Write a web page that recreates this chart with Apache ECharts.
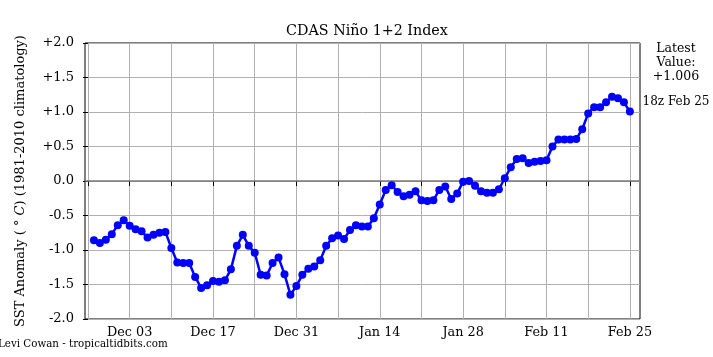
<!DOCTYPE html>
<html><head><meta charset="utf-8">
<script src="https://cdn.jsdelivr.net/npm/echarts@6/dist/echarts.min.js"></script>
<style>html,body{margin:0;padding:0;background:#fff}#c{width:713px;height:357px}</style>
</head><body><div id="c"></div>
<script>
const chartTitle = 'CDAS Niño 1+2 Index';
const refDate = '2023-11-26';       // day 0 of the x axis
const firstDataDate = '2023-11-27'; // first daily value
const anomaly = [
  -0.86,-0.90,-0.85,-0.77,-0.64,-0.57,-0.65,-0.70,-0.73,-0.82,
  -0.78,-0.75,-0.74,-0.97,-1.18,-1.19,-1.19,-1.39,-1.55,-1.51,
  -1.45,-1.46,-1.44,-1.28,-0.94,-0.78,-0.94,-1.04,-1.36,-1.37,
  -1.19,-1.11,-1.35,-1.65,-1.52,-1.36,-1.27,-1.24,-1.15,-0.94,
  -0.83,-0.79,-0.84,-0.71,-0.64,-0.66,-0.66,-0.54,-0.34,-0.13,
  -0.06,-0.16,-0.22,-0.20,-0.15,-0.28,-0.29,-0.28,-0.13,-0.08,
  -0.26,-0.18,-0.01,0.00,-0.07,-0.15,-0.17,-0.17,-0.12,0.04,
  0.20,0.32,0.33,0.26,0.28,0.29,0.30,0.50,0.60,0.60,
  0.60,0.61,0.75,0.98,1.07,1.07,1.14,1.22,1.20,1.14,
  1.006
];
const tickDates = ['2023-11-26','2023-12-03','2023-12-10','2023-12-17','2023-12-24','2023-12-31',
  '2024-01-07','2024-01-14','2024-01-21','2024-01-28','2024-02-04','2024-02-11','2024-02-18','2024-02-25'];
const labelDates = ['2023-12-03','2023-12-17','2023-12-31','2024-01-14','2024-01-28','2024-02-11','2024-02-25'];
const labelTexts = ['Dec 03','Dec 17','Dec 31','Jan 14','Jan 28','Feb 11','Feb 25'];
const latestText = 'Latest\nValue:\n+1.006';
const latestTime = '18z Feb 25';
const credit = 'Levi Cowan - tropicaltidbits.com';

const DAY = 86400000;
const dayOf = s => Math.round((Date.parse(s) - Date.parse(refDate)) / DAY);
const first = dayOf(firstDataDate);
const seriesData = anomaly.map((v, i) => [first + i, v]);
const tickDays = tickDates.map(dayOf);
const labelDays = labelDates.map(dayOf);
const labelMap = {};
labelDays.forEach((d, i) => labelMap[d] = labelTexts[i]);

const FONT = 'DejaVu Serif';
const chart = echarts.init(document.getElementById('c'));
chart.setOption({
  animation: false,
  backgroundColor: '#fff',
  title: {
    text: chartTitle, left: 362, top: 19, textAlign: 'center',
    textStyle: {fontFamily: FONT, fontSize: 14.3, fontWeight: 'normal', color: '#000'}
  },
  grid: {left: 85, right: 73, top: 43, bottom: 38, show: true, borderColor: '#000', borderWidth: 1, containLabel: false},
  xAxis: {
    type: 'value', min: -0.5, max: 92.7,
    axisLine: {show: false},
    axisTick: {show: true, length: 5, customValues: tickDays, lineStyle: {color: '#000', width: 1}},
    axisLabel: {customValues: labelDays, formatter: v => labelMap[Math.round(v)] || '', fontFamily: FONT, fontSize: 12.8, color: '#000', margin: 7},
    splitLine: {show: true, lineStyle: {color: '#b0b0b0', width: 1}}
  },
  yAxis: {
    type: 'value', min: -2, max: 2, interval: 0.5,
    name: '{a|SST Anomaly ( ° }{i|C}{a|) (1981-2010 climatology)}', nameLocation: 'middle', nameGap: 58,
    nameTextStyle: {fontFamily: FONT, fontSize: 13, color: '#000',
      rich: {a: {fontFamily: FONT, fontSize: 13, color: '#000'}, i: {fontFamily: FONT, fontSize: 13, fontStyle: 'italic', color: '#000'}}},
    axisLine: {show: false},
    axisTick: {show: true, length: 5, lineStyle: {color: '#000'}},
    axisLabel: {formatter: v => (v > 0 ? '+' : '') + v.toFixed(1), fontFamily: FONT, fontSize: 13, color: '#000', margin: 11},
    splitLine: {show: true, lineStyle: {color: '#b0b0b0', width: 1}}
  },
  graphic: [
    {type: 'text', style: {text: latestText, x: 676, y: 42, textAlign: 'center', font: '12.5px "DejaVu Serif"', fill: '#000', lineHeight: 14}},
    {type: 'text', style: {text: latestTime, x: 676, y: 96, textAlign: 'center', font: '12px "DejaVu Serif"', fill: '#000'}},
    {type: 'text', style: {text: credit, x: -2, y: 339, font: '10.3px "DejaVu Serif"', fill: '#000'}}
  ],
  series: [
    {
      type: 'line', data: seriesData,
      lineStyle: {color: '#0000ff', width: 2.5},
      itemStyle: {color: '#0000ff'},
      symbol: 'circle', symbolSize: 8, showSymbol: true,
      markLine: {
        silent: true, symbol: 'none', label: {show: false},
        lineStyle: {color: '#777', width: 1.5, type: 'solid'},
        data: [{yAxis: 0}]
      },
      z: 5
    }
  ]
});
</script>
</body></html>
